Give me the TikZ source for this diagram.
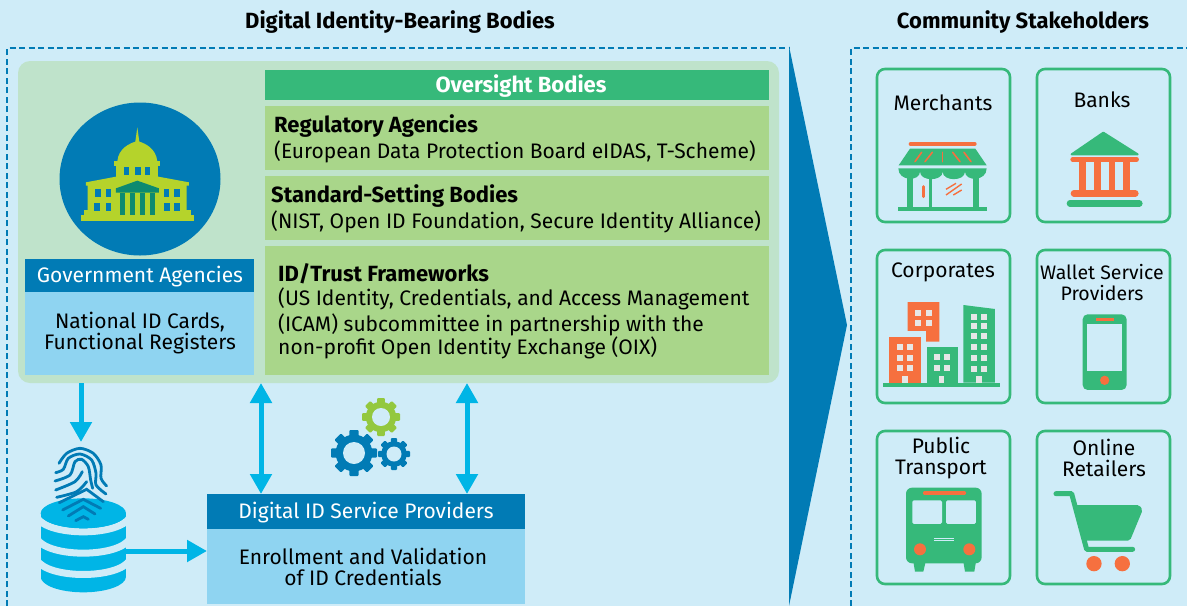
\documentclass[tikz,border=0pt]{standalone}
\usepackage{fontspec}
\setmainfont{Fira Sans}
\usetikzlibrary{arrows.meta}

\definecolor{paleblue}{HTML}{CFECF8}
\definecolor{deepblue}{HTML}{017BB5}
\definecolor{skyblue}{HTML}{8FD4F1}
\definecolor{cyanblue}{HTML}{00B5E6}
\definecolor{panelgreen}{HTML}{BFE3CB}
\definecolor{headgreen}{HTML}{36B97A}
\definecolor{boxgreen}{HTML}{A9D68A}
\definecolor{limegreen}{HTML}{B5D32B}
\definecolor{gearlime}{HTML}{93C83E}
\definecolor{darkteal}{HTML}{0D8A70}
\definecolor{iconorange}{HTML}{F6703F}
\definecolor{winlight}{HTML}{E6E6E6}

\tikzset{
  box/.style={inner sep=0pt, outer sep=0pt, anchor=north west},
  txt/.style={inner sep=0pt, yshift=-0.5pt, font=\fontsize{21}{21}\selectfont, text=black, align=center},
  boldtxt/.style={yshift=-1pt, font=\fontsize{22}{22}\selectfont\bfseries},
  lefttxt/.style={txt, anchor=west, align=left},
  headtxt/.style={txt, text=white},
  card/.style={box, draw=headgreen, line width=2.6pt, rounded corners=8pt, minimum width=133pt, minimum height=153pt},
  oneway/.style={cyanblue, line width=5pt, -{Triangle[width=21pt,length=20pt]}},
  bothways/.style={cyanblue, line width=5pt, {Triangle[width=21pt,length=20pt]}-{Triangle[width=21pt,length=20pt]}},
  dashline/.style={deepblue, line width=1.2pt, dash pattern=on 6pt off 3.5pt},
  icon/.style={shift={(#1)}, x=0.3333pt, y=-0.3333pt}
}

% teeth, rim and hole of one gear
\newcommand{\gearwheel}[4]{
  \begin{scope}[shift={(#1)}]
    \foreach \a in {0,45,...,315}
      \fill[#4, rotate=\a, rounded corners=1pt] (-0.2*#2,0) rectangle (0.2*#2,#2);
    \fill[#4] (0,0) circle (0.8*#2);
    \fill[paleblue] (0,0) circle (#3);
  \end{scope}
}

\begin{document}
\begin{tikzpicture}[x=1pt, y=-1pt]

\useasboundingbox (0,0) rectangle (1187,606);
\fill[paleblue] (0,0) rectangle (1187,606);

\node (lefttitle) [txt, boldtxt] at (400,21) {Digital Identity-Bearing Bodies};
\node (righttitle) [txt, boldtxt] at (1023,21) {Community Stakeholders};

\draw[dashline] (7,606)--(7,48)--(789,48);
\draw[dashline] (851,606)--(851,48)--(1187,48);
\fill[deepblue] (789,46)--(847,325)--(789,606)--cycle;

\node (panel) [box, fill=panelgreen, rounded corners=12pt, minimum width=761pt, minimum height=322pt] at (18,61) {};

% oversight side
\node (oversight) [box, fill=headgreen, minimum width=504pt, minimum height=30pt] at (265,70) {};
\node (oversighttxt) [headtxt, boldtxt] at (521,85) {Oversight Bodies};
\node (regbox) [box, fill=boxgreen, minimum width=504pt, minimum height=64pt] at (265,106) {};
\node (regtitle) [lefttxt, boldtxt] at (274,125) {Regulatory Agencies};
\node (regtxt) [lefttxt] at (274,151) {(European Data Protection Board eIDAS, T-Scheme)};
\node (stdbox) [box, fill=boxgreen, minimum width=504pt, minimum height=64pt] at (265,176) {};
\node (stdtitle) [lefttxt, boldtxt] at (271,195) {Standard-Setting Bodies};
\node (stdtxt) [lefttxt] at (271,221) {(NIST, Open ID Foundation, Secure Identity Alliance)};
\node (trustbox) [box, fill=boxgreen, minimum width=504pt, minimum height=129pt] at (265,246) {};
\node (trusttitle) [lefttxt, boldtxt] at (278,272) {ID/Trust Frameworks};
\node (trusta) [lefttxt] at (278,298) {(US Identity, Credentials, and Access Management};
\node (trustb) [lefttxt] at (278,324) {(ICAM) subcommittee in partnership with the};
\node (trustc) [lefttxt] at (278,347) {non-profit Open Identity Exchange (OIX)};

% government side
\fill[deepblue] (140,179) ellipse (80.5 and 76.5);
\begin{scope}[icon={20,90}]
  \fill[limegreen] (182,375) rectangle (522,393);
  \fill[limegreen] (192,360) rectangle (512,375);
  \fill[limegreen] (203,360)--(203,287)--(198,287)--(198,277)--(288,260)--(415,260)--(507,277)--(507,287)--(500,287)--(500,360)--cycle;
  \fill[limegreen] (288,262) rectangle (415,228);
  \fill[limegreen] (283,214) rectangle (420,228);
  \fill[limegreen] (292,214) .. controls (295,175) and (330,160) .. (346,155)--(352,112)--(358,155) .. controls (375,160) and (408,175) .. (412,214)--cycle;
  \foreach \wx/\wy/\ww/\wh in {312/232/16/23,345/232/18/23,375/232/16/23,225/297/18/24,257/297/16/24,222/339/18/24,257/339/16/24,432/297/15/24,462/297/18/24,432/339/18/24,462/339/18/24}
    \fill[deepblue] (\wx,\wy) rectangle ++(\ww,\wh);
  \fill[darkteal] (288,295)--(352,272)--(417,295)--(417,308)--(288,308)--cycle;
  \foreach \cx in {300,330,360,390}
    \fill[darkteal] (\cx,308) rectangle ++(15,67);
\end{scope}

\node (govhead) [box, fill=deepblue, minimum width=229pt, minimum height=33pt] at (25,259) {};
\node (govheadtxt) [headtxt] at (140,276) {Government Agencies};
\node (govbody) [box, fill=skyblue, minimum width=229pt, minimum height=83pt] at (25,292) {};
\node (govtxt) [txt] at (140,333) {National ID Cards,\\Functional Registers};

% providers
\node (provhead) [box, fill=deepblue, minimum width=318pt, minimum height=35pt] at (207,494) {};
\node (provheadtxt) [headtxt] at (366,512) {Digital ID Service Providers};
\node (provbody) [box, fill=skyblue, minimum width=318pt, minimum height=75pt] at (207,529) {};
\node (provtxt) [txt] at (363,566) {Enrollment and Validation\\of ID Credentials};

% database with fingerprint
\begin{scope}[icon={20,380}]
  \begin{scope}
    \clip (62,400) -- (318,400) -- (318,590) arc (0:180:128 and 47) -- cycle;
    \fill[cyanblue] (62,390) rectangle (318,640);
    \foreach \by in {412,476,540}
      \draw[paleblue, line width=7pt] (50,\by) .. controls (85,\by+58) and (295,\by+58) .. (330,\by);
  \end{scope}
  \fill[cyanblue] (190,400) ellipse (128 and 45);
  \begin{scope}[deepblue, line width=2.8pt, line cap=round]
    \draw plot[smooth] coordinates {(117,250) (140,220) (180,205) (220,220) (243,255) (243,295) (260,318)};
    \draw plot[smooth] coordinates {(107,278) (130,268) (145,235) (180,222) (215,240) (228,280) (228,315) (258,342)};
    \draw plot[smooth] coordinates {(105,303) (150,285) (165,245) (185,238) (205,260) (212,300) (218,325)};
    \draw plot[smooth] coordinates {(107,330) (165,305) (187,275)};
    \draw plot[smooth] coordinates {(110,352) (170,335) (200,305)};
    \draw (118,368)--(200,328)--(250,365);
    \draw (128,390)--(190,358)--(242,385);
    \draw (145,408)--(190,380)--(225,402);
    \draw (167,422)--(190,410)--(205,418);
  \end{scope}
\end{scope}

% gears
\gearwheel{354,453}{23}{11}{deepblue}
\gearwheel{381,417}{19}{9}{gearlime}
\gearwheel{394,454}{16}{7.5}{deepblue}

% arrows
\coordinate (printtop) at (81,442);
\coordinate (linkleft) at (261,0);
\coordinate (linkright) at (467,0);
\coordinate (dbout) at (126,551);
\draw[oneway] (printtop |- panel.south) -- (printtop);
\draw[bothways] (linkleft |- panel.south) -- (linkleft |- provhead.north);
\draw[bothways] (linkright |- panel.south) -- (linkright |- provhead.north);
\draw[oneway] (dbout) -- (provbody.west |- dbout);

% stakeholder cards
\node (merchants) [card] at (877,69) {};
\node (banks) [card] at (1037,69) {};
\node (corporates) [card] at (877,250) {};
\node (wallet) [card] at (1037,250) {};
\node (transport) [card] at (877,431) {};
\node (retailers) [card] at (1037,431) {};

\node (merchantstxt) [txt] at (943,102) {Merchants};
\node (bankstxt) [txt] at (1102,99) {Banks};
\node (corporatestxt) [txt] at (943,272) {Corporates};
\node (wallettxt) [txt, font=\fontsize{19.5}{21}\selectfont] at (1102,282) {Wallet Service\\Providers};
\node (transporttxt) [txt] at (941,458) {Public\\Transport};
\node (retailerstxt) [txt] at (1104,457) {Online\\Retailers};

% shop and bank
\begin{scope}[icon={870,60}]
  \draw[iconorange, line width=4pt, line cap=round] (122,252)--(314,252);
  \fill[headgreen] (120,266)--(316,266)--(350,316)--(86,316)--cycle;
  \foreach \sa/\sb in {135/155,165/187,218/218,270/248,303/282}
    \draw[iconorange, line width=1.6pt, line cap=round] (\sa,305)--(\sb,277);
  \fill[headgreen] (85,325)--(350,325)
    .. controls (350,365) and (285,365) .. (285,335)
    .. controls (285,365) and (218,365) .. (218,335)
    .. controls (218,365) and (150,365) .. (150,335)
    .. controls (150,365) and (85,365) .. (85,325)--cycle;
  \fill[headgreen] (110,345) rectangle (128,442);
  \fill[headgreen] (176,345) rectangle (186,442);
  \fill[headgreen] (310,345) rectangle (328,442);
  \fill[headgreen] (85,440) rectangle (350,452);
  \draw[iconorange, line width=3pt, line cap=round] (160,380)--(160,410);
  \foreach \ga/\gb/\gc/\gd in {228/388/258/370,228/405/275/372,250/405/275/390}
    \draw[iconorange, line width=1.4pt] (\ga,\gb)--(\gc,\gd);
  \filldraw[headgreen, line width=2pt, line join=round] (605,283)--(700,218)--(803,283)--cycle;
  \draw[iconorange, line width=4.6pt, line cap=round] (608,298)--(800,298);
  \foreach \cx in {628,672,716,760}
    \fill[iconorange] (\cx,305) rectangle ++(20,87);
  \draw[iconorange, line width=6.6pt, line cap=round] (612,400)--(796,400);
  \draw[headgreen, line width=6.6pt, line cap=round] (600,430)--(808,430);
\end{scope}

% buildings and phone
\begin{scope}[icon={870,245}]
  \fill[iconorange] (113,171)--(208,171)--(208,290)--(168,290)--(168,258)--(113,258)--cycle;
  \fill[iconorange] (58,275) rectangle (152,413);
  \fill[headgreen] (170,306) rectangle (263,413);
  \fill[headgreen] (280,180)--(375,192)--(375,413)--(280,413)--cycle;
  \fill[headgreen] (40,413) rectangle (390,426);
  \foreach \wx/\wy in {136/195,168/195,136/225,168/225,81/297,111/297,81/329,111/329,81/361,111/361,192/328,222/328,192/360,222/360}
    \fill[winlight] (\wx,\wy) rectangle ++(18,18);
  \foreach \wy in {207,234,265,298,330,362}
    \foreach \wx in {303,333}
      \fill[winlight] (\wx,\wy) rectangle ++(18,18);
  \foreach \wx in {97,207,319}
    \fill[winlight] (\wx,393) rectangle ++(16,20);
  \fill[headgreen, rounded corners=5pt] (638,208) rectangle (770,435);
  \fill[paleblue] (652,237) rectangle (756,378);
  \fill[iconorange] (677,219) rectangle (731,228);
  \fill[iconorange] (704,406) circle (14);
\end{scope}

% bus and cart
\begin{scope}[icon={870,425}]
  \fill[headgreen] (130,410)--(167,410)--(160,440)--(135,440)--cycle;
  \fill[headgreen] (280,410)--(318,410)--(313,440)--(285,440)--cycle;
  \fill[headgreen, rounded corners=6pt] (108,188) rectangle (335,415);
  \draw[iconorange, line width=3.6pt, line cap=round] (164,204)--(283,204);
  \fill[paleblue, rounded corners=1.5pt] (127,226) rectangle (216,297);
  \fill[paleblue, rounded corners=1.5pt] (228,226) rectangle (318,297);
  \fill[iconorange] (150,373) circle (18);
  \fill[iconorange] (298,373) circle (18);
  \draw[paleblue, line width=0.6pt] (193,340)--(252,340) (193,347)--(252,347);
  \draw[headgreen, line width=5pt, line cap=round, line join=round] (558,206)--(605,206)--(650,373)--(788,373);
  \fill[headgreen, rounded corners=2pt] (617,240)--(808,240)--(818,255)--(780,347)--(640,347)--cycle;
  \fill[iconorange] (672,416) circle (23);
  \fill[iconorange] (757,416) circle (23);
\end{scope}

\end{tikzpicture}
\end{document}
